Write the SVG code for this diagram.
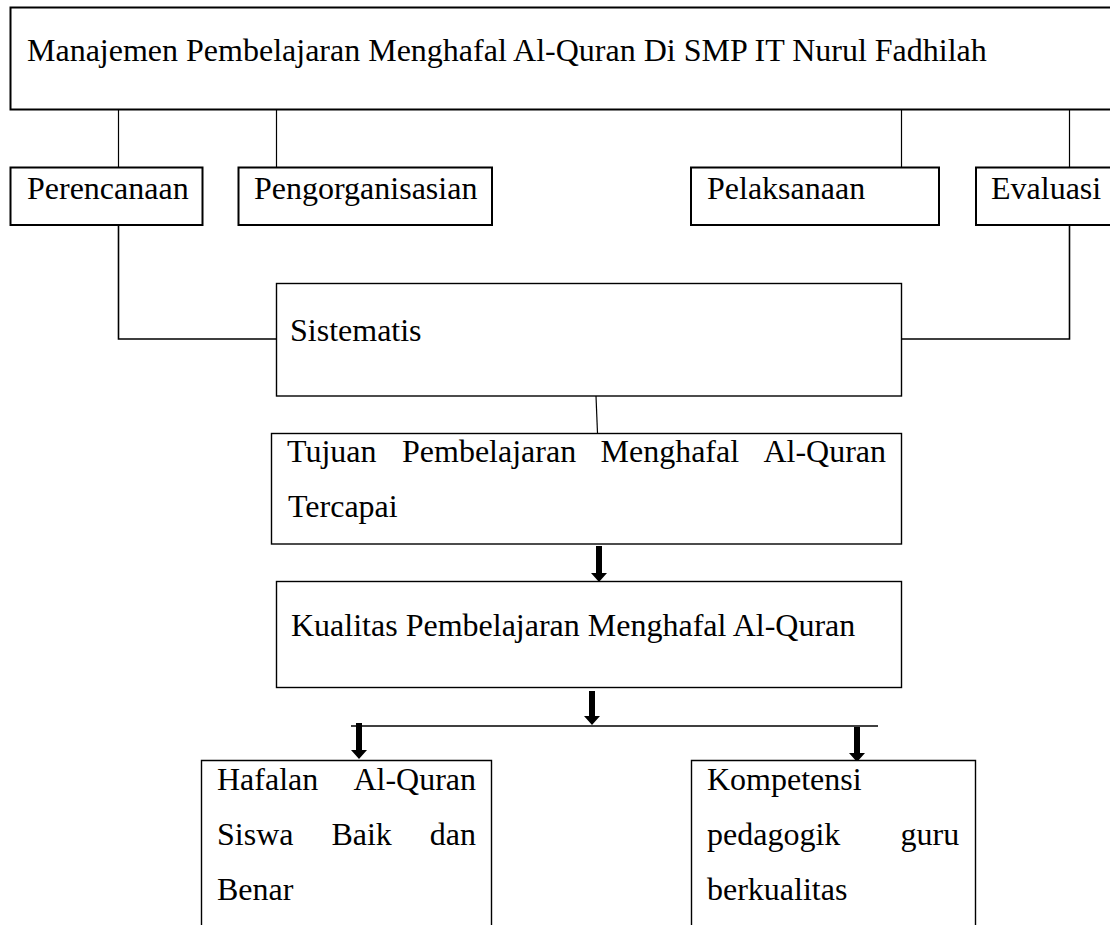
<svg xmlns="http://www.w3.org/2000/svg" width="1110" height="925" viewBox="0 0 1110 925">
<style>
  .box { fill: #fff; stroke: #000; }
  .thick { stroke-width: 2; }
  .thin { stroke-width: 1.4; }
  .t { font-family: "Liberation Serif", "Times New Roman", serif; font-size: 32px; fill: #000; }
  .conn line, .conn polyline { stroke: #000; stroke-width: 1.2; fill: none; }
  .arrow { fill: #000; stroke: none; }
</style>
<rect width="1110" height="925" fill="#fff"/>

<g id="connectors" class="conn">
  <line x1="118.5" y1="109" x2="118.5" y2="168"/>
  <line x1="276.5" y1="109" x2="276.5" y2="168"/>
  <line x1="901.5" y1="109" x2="901.5" y2="168"/>
  <line x1="1069.5" y1="109" x2="1069.5" y2="168"/>
  <polyline points="118.5,225 118.5,339 276,339" style="stroke-width:1.6"/>
  <polyline points="1069.5,225 1069.5,339 901,339" style="stroke-width:1.6"/>
  <line x1="596" y1="396" x2="597.7" y2="438"/>
  <line x1="351" y1="726" x2="878" y2="726" style="stroke-width:1.6"/>
  <polygon class="arrow" points="596,546 602,546 602,573 607,573 599,582 591,573 596,573"/>
  <polygon class="arrow" points="589,691 595,691 595,716 600,716 592,725 584,716 589,716"/>
  <polygon class="arrow" points="356,723 362,723 362,750 367,750 359,759 351,750 356,750"/>
  <polygon class="arrow" points="854,727 860,727 860,753 865,753 857,762 849,753 854,753"/>
</g>

<g id="node-title">
  <rect class="box thick" x="10.5" y="7.5" width="1110" height="102"/>
  <text class="t" x="27" y="61">Manajemen Pembelajaran Menghafal Al-Quran Di SMP IT Nurul Fadhilah</text>
</g>

<g id="node-perencanaan">
  <rect class="box thick" x="10.5" y="167.5" width="192" height="57.5"/>
  <text class="t" x="27" y="199">Perencanaan</text>
</g>

<g id="node-pengorganisasian">
  <rect class="box thick" x="238.5" y="167.5" width="253.5" height="57.5"/>
  <text class="t" x="254" y="199">Pengorganisasian</text>
</g>

<g id="node-pelaksanaan">
  <rect class="box thick" x="691" y="167.5" width="248" height="57.5"/>
  <text class="t" x="707" y="199">Pelaksanaan</text>
</g>

<g id="node-evaluasi">
  <rect class="box thick" x="976" y="167.5" width="150" height="57.5"/>
  <text class="t" x="991" y="199">Evaluasi</text>
</g>

<g id="node-sistematis">
  <rect class="box thin" x="276.5" y="283.5" width="625" height="112.5"/>
  <text class="t" x="290" y="341">Sistematis</text>
</g>

<g id="node-tujuan">
  <rect class="box thin" x="271.5" y="433.5" width="630" height="110.5"/>
  <text class="t" y="462"><tspan x="287">Tujuan</tspan><tspan x="402">Pembelajaran</tspan><tspan x="600.5">Menghafal</tspan><tspan x="763.4">Al-Quran</tspan></text>
  <text class="t" x="288" y="517">Tercapai</text>
</g>

<g id="node-kualitas">
  <rect class="box thin" x="276.5" y="581.5" width="625" height="106"/>
  <text class="t" x="291" y="636">Kualitas Pembelajaran Menghafal Al-Quran</text>
</g>

<g id="node-hafalan">
  <path class="box thin" d="M201.5,930 V760.5 H491.5 V930"/>
  <text class="t" y="790"><tspan x="217">Hafalan</tspan><tspan x="353.4">Al-Quran</tspan></text>
  <text class="t" y="845"><tspan x="217">Siswa</tspan><tspan x="331.4">Baik</tspan><tspan x="429.8">dan</tspan></text>
  <text class="t" x="217" y="900">Benar</text>
</g>

<g id="node-kompetensi">
  <path class="box thin" d="M691.5,930 V760.5 H975.5 V930"/>
  <text class="t" x="707" y="790">Kompetensi</text>
  <text class="t" y="845"><tspan x="707">pedagogik</tspan><tspan x="900.6">guru</tspan></text>
  <text class="t" x="707" y="900">berkualitas</text>
</g>
</svg>
